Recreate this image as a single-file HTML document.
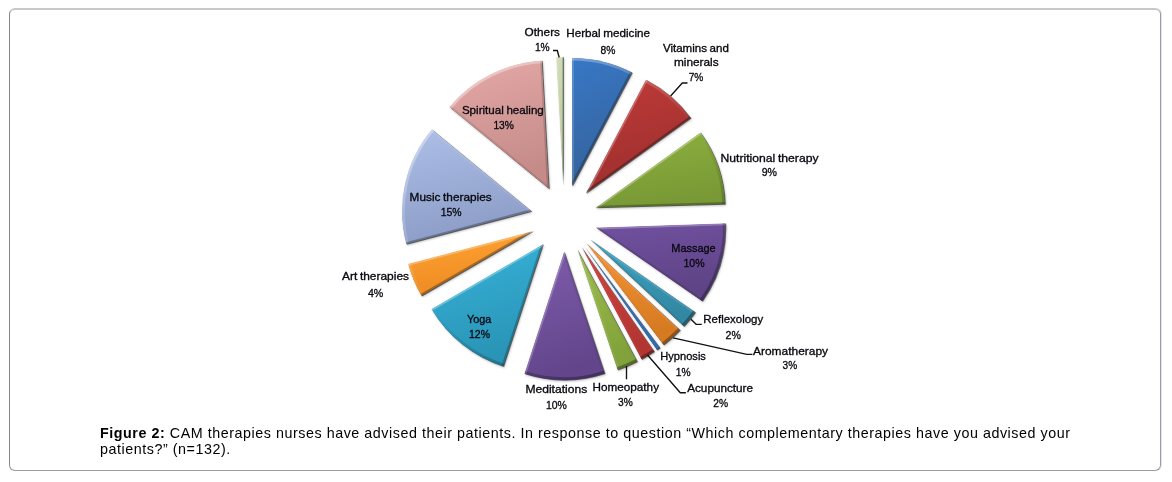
<!DOCTYPE html>
<html><head><meta charset="utf-8"><title>Figure 2</title>
<style>
html,body{margin:0;padding:0;background:#fff;}
body{width:1172px;height:482px;position:relative;overflow:hidden;font-family:"Liberation Sans",sans-serif;}
.frame{position:absolute;left:9px;top:8px;width:1150px;height:460px;border:1px solid #9b9ba3;border-left-color:#8c8888;border-top:2px solid #c8c8c8;border-radius:6px;box-sizing:content-box;box-shadow:1px 0 0 #e4e4ea;}
.cap{position:absolute;left:100px;top:425px;width:1000px;font-size:14.3px;line-height:16px;color:#000;letter-spacing:0.545px;}
.cap b{font-weight:bold;}
</style></head><body>
<div class="frame"></div>
<svg width="1172" height="482" viewBox="0 0 1172 482" style="position:absolute;left:0;top:0">
<defs>
<filter id="sh" x="-20%" y="-20%" width="140%" height="140%"><feGaussianBlur stdDeviation="1.1"/></filter>
<filter id="b2" x="-20%" y="-20%" width="140%" height="140%"><feGaussianBlur stdDeviation="0.45"/></filter>
<path id="p-herbal" d="M571.9,186.3L571.9,57.7A128.6,128.6 0 0 1 631.5,72.3Z"/><clipPath id="c-herbal"><use href="#p-herbal"/></clipPath><linearGradient id="g-herbal" x1="0" y1="0" x2="0.25" y2="1"><stop offset="0" stop-color="#3878c6"/><stop offset="1" stop-color="#35629b"/></linearGradient><linearGradient id="a-herbal" gradientUnits="userSpaceOnUse" x1="501.1" y1="78.9" x2="642.6" y2="293.6"><stop offset="0" stop-color="#fff" stop-opacity="0.38"/><stop offset="0.5" stop-color="#fff" stop-opacity="0"/><stop offset="0.5" stop-color="#000" stop-opacity="0"/><stop offset="1" stop-color="#000" stop-opacity="0.34"/></linearGradient><path id="p-vitamins" d="M585.6,193.3L645.2,79.4A128.6,128.6 0 0 1 689.8,117.9Z"/><clipPath id="c-vitamins"><use href="#p-vitamins"/></clipPath><linearGradient id="g-vitamins" x1="0" y1="0" x2="0.25" y2="1"><stop offset="0" stop-color="#bf3a38"/><stop offset="1" stop-color="#9d302e"/></linearGradient><linearGradient id="a-vitamins" gradientUnits="userSpaceOnUse" x1="514.9" y1="86.0" x2="656.3" y2="300.7"><stop offset="0" stop-color="#fff" stop-opacity="0.38"/><stop offset="0.5" stop-color="#fff" stop-opacity="0"/><stop offset="0.5" stop-color="#000" stop-opacity="0"/><stop offset="1" stop-color="#000" stop-opacity="0.34"/></linearGradient><path id="p-nutri" d="M595.2,207.7L699.4,132.3A128.6,128.6 0 0 1 723.8,204.1Z"/><clipPath id="c-nutri"><use href="#p-nutri"/></clipPath><linearGradient id="g-nutri" x1="0" y1="0" x2="0.25" y2="1"><stop offset="0" stop-color="#8db03f"/><stop offset="1" stop-color="#789935"/></linearGradient><linearGradient id="a-nutri" gradientUnits="userSpaceOnUse" x1="524.5" y1="100.3" x2="666.0" y2="315.1"><stop offset="0" stop-color="#fff" stop-opacity="0.38"/><stop offset="0.5" stop-color="#fff" stop-opacity="0"/><stop offset="0.5" stop-color="#000" stop-opacity="0"/><stop offset="1" stop-color="#000" stop-opacity="0.34"/></linearGradient><path id="p-massage" d="M595.6,227.6L724.2,223.2A128.6,128.6 0 0 1 701.1,301.2Z"/><clipPath id="c-massage"><use href="#p-massage"/></clipPath><linearGradient id="g-massage" x1="0" y1="0" x2="0.25" y2="1"><stop offset="0" stop-color="#7151a0"/><stop offset="1" stop-color="#5e4385"/></linearGradient><linearGradient id="a-massage" gradientUnits="userSpaceOnUse" x1="524.9" y1="120.3" x2="666.4" y2="335.0"><stop offset="0" stop-color="#fff" stop-opacity="0.38"/><stop offset="0.5" stop-color="#fff" stop-opacity="0"/><stop offset="0.5" stop-color="#000" stop-opacity="0"/><stop offset="1" stop-color="#000" stop-opacity="0.34"/></linearGradient><path id="p-reflex" d="M589.6,239.1L694.3,312.1A127.6,127.6 0 0 1 682.8,326.3Z"/><clipPath id="c-reflex"><use href="#p-reflex"/></clipPath><linearGradient id="g-reflex" x1="0" y1="0" x2="0.25" y2="1"><stop offset="0" stop-color="#3fa5c4"/><stop offset="1" stop-color="#3288a3"/></linearGradient><linearGradient id="a-reflex" gradientUnits="userSpaceOnUse" x1="518.9" y1="131.7" x2="660.4" y2="346.4"><stop offset="0" stop-color="#fff" stop-opacity="0.38"/><stop offset="0.5" stop-color="#fff" stop-opacity="0"/><stop offset="0.5" stop-color="#000" stop-opacity="0"/><stop offset="1" stop-color="#000" stop-opacity="0.34"/></linearGradient><path id="p-aroma" d="M586.0,242.9L679.2,330.0A127.6,127.6 0 0 1 662.7,344.9Z"/><clipPath id="c-aroma"><use href="#p-aroma"/></clipPath><linearGradient id="g-aroma" x1="0" y1="0" x2="0.25" y2="1"><stop offset="0" stop-color="#f59433"/><stop offset="1" stop-color="#d67a22"/></linearGradient><linearGradient id="a-aroma" gradientUnits="userSpaceOnUse" x1="515.3" y1="135.5" x2="656.8" y2="350.2"><stop offset="0" stop-color="#fff" stop-opacity="0.38"/><stop offset="0.5" stop-color="#fff" stop-opacity="0"/><stop offset="0.5" stop-color="#000" stop-opacity="0"/><stop offset="1" stop-color="#000" stop-opacity="0.34"/></linearGradient><path id="p-hypno" d="M583.2,245.1L659.2,347.6A127.6,127.6 0 0 1 656.1,349.9Z"/><clipPath id="c-hypno"><use href="#p-hypno"/></clipPath><linearGradient id="g-hypno" x1="0" y1="0" x2="0.25" y2="1"><stop offset="0" stop-color="#3b7cc8"/><stop offset="1" stop-color="#326aab"/></linearGradient><linearGradient id="a-hypno" gradientUnits="userSpaceOnUse" x1="512.5" y1="137.7" x2="654.0" y2="352.5"><stop offset="0" stop-color="#fff" stop-opacity="0.38"/><stop offset="0.5" stop-color="#fff" stop-opacity="0"/><stop offset="0.5" stop-color="#000" stop-opacity="0"/><stop offset="1" stop-color="#000" stop-opacity="0.34"/></linearGradient><path id="p-acu" d="M581.1,246.5L653.6,351.5A127.6,127.6 0 0 1 640.8,359.3Z"/><clipPath id="c-acu"><use href="#p-acu"/></clipPath><linearGradient id="g-acu" x1="0" y1="0" x2="0.25" y2="1"><stop offset="0" stop-color="#d04341"/><stop offset="1" stop-color="#b23532"/></linearGradient><linearGradient id="a-acu" gradientUnits="userSpaceOnUse" x1="510.4" y1="139.1" x2="651.8" y2="353.9"><stop offset="0" stop-color="#fff" stop-opacity="0.38"/><stop offset="0.5" stop-color="#fff" stop-opacity="0"/><stop offset="0.5" stop-color="#000" stop-opacity="0"/><stop offset="1" stop-color="#000" stop-opacity="0.34"/></linearGradient><path id="p-homeo" d="M576.9,248.7L636.7,361.4A127.6,127.6 0 0 1 617.0,369.8Z"/><clipPath id="c-homeo"><use href="#p-homeo"/></clipPath><linearGradient id="g-homeo" x1="0" y1="0" x2="0.25" y2="1"><stop offset="0" stop-color="#9ec050"/><stop offset="1" stop-color="#81a13a"/></linearGradient><linearGradient id="a-homeo" gradientUnits="userSpaceOnUse" x1="506.2" y1="141.3" x2="647.7" y2="356.0"><stop offset="0" stop-color="#fff" stop-opacity="0.38"/><stop offset="0.5" stop-color="#fff" stop-opacity="0"/><stop offset="0.5" stop-color="#000" stop-opacity="0"/><stop offset="1" stop-color="#000" stop-opacity="0.34"/></linearGradient><path id="p-medit" d="M564.1,251.3L604.5,373.4A128.6,128.6 0 0 1 524.6,373.7Z"/><clipPath id="c-medit"><use href="#p-medit"/></clipPath><linearGradient id="g-medit" x1="0" y1="0" x2="0.25" y2="1"><stop offset="0" stop-color="#805dad"/><stop offset="1" stop-color="#62458b"/></linearGradient><linearGradient id="a-medit" gradientUnits="userSpaceOnUse" x1="493.4" y1="143.9" x2="634.8" y2="358.7"><stop offset="0" stop-color="#fff" stop-opacity="0.38"/><stop offset="0.5" stop-color="#fff" stop-opacity="0"/><stop offset="0.5" stop-color="#000" stop-opacity="0"/><stop offset="1" stop-color="#000" stop-opacity="0.34"/></linearGradient><path id="p-yoga" d="M543.3,244.0L503.8,366.4A128.6,128.6 0 0 1 432.3,308.9Z"/><clipPath id="c-yoga"><use href="#p-yoga"/></clipPath><linearGradient id="g-yoga" x1="0" y1="0" x2="0.25" y2="1"><stop offset="0" stop-color="#37b3d9"/><stop offset="1" stop-color="#2994b6"/></linearGradient><linearGradient id="a-yoga" gradientUnits="userSpaceOnUse" x1="472.6" y1="136.6" x2="614.1" y2="351.4"><stop offset="0" stop-color="#fff" stop-opacity="0.38"/><stop offset="0.5" stop-color="#fff" stop-opacity="0"/><stop offset="0.5" stop-color="#000" stop-opacity="0"/><stop offset="1" stop-color="#000" stop-opacity="0.34"/></linearGradient><path id="p-art" d="M533.5,231.0L422.5,295.8A128.6,128.6 0 0 1 409.2,263.8Z"/><clipPath id="c-art"><use href="#p-art"/></clipPath><linearGradient id="g-art" x1="0" y1="0" x2="0.25" y2="1"><stop offset="0" stop-color="#ffa534"/><stop offset="1" stop-color="#ee8a22"/></linearGradient><linearGradient id="a-art" gradientUnits="userSpaceOnUse" x1="462.8" y1="123.6" x2="604.3" y2="338.3"><stop offset="0" stop-color="#fff" stop-opacity="0.38"/><stop offset="0.5" stop-color="#fff" stop-opacity="0"/><stop offset="0.5" stop-color="#000" stop-opacity="0"/><stop offset="1" stop-color="#000" stop-opacity="0.34"/></linearGradient><path id="p-music" d="M531.8,211.2L407.4,244.1A128.6,128.6 0 0 1 432.7,129.2Z"/><clipPath id="c-music"><use href="#p-music"/></clipPath><linearGradient id="g-music" x1="0" y1="0" x2="0.25" y2="1"><stop offset="0" stop-color="#adc0e8"/><stop offset="1" stop-color="#8c9cc6"/></linearGradient><linearGradient id="a-music" gradientUnits="userSpaceOnUse" x1="461.0" y1="103.8" x2="602.5" y2="318.6"><stop offset="0" stop-color="#fff" stop-opacity="0.38"/><stop offset="0.5" stop-color="#fff" stop-opacity="0"/><stop offset="0.5" stop-color="#000" stop-opacity="0"/><stop offset="1" stop-color="#000" stop-opacity="0.34"/></linearGradient><path id="p-spirit" d="M549.1,188.8L450.1,106.9A128.6,128.6 0 0 1 542.2,60.4Z"/><clipPath id="c-spirit"><use href="#p-spirit"/></clipPath><linearGradient id="g-spirit" x1="0" y1="0" x2="0.25" y2="1"><stop offset="0" stop-color="#e6aaa8"/><stop offset="1" stop-color="#c48b89"/></linearGradient><linearGradient id="a-spirit" gradientUnits="userSpaceOnUse" x1="478.4" y1="81.5" x2="619.9" y2="296.2"><stop offset="0" stop-color="#fff" stop-opacity="0.38"/><stop offset="0.5" stop-color="#fff" stop-opacity="0"/><stop offset="0.5" stop-color="#000" stop-opacity="0"/><stop offset="1" stop-color="#000" stop-opacity="0.34"/></linearGradient><path id="p-others" d="M563.1,185.3L556.2,56.9A128.6,128.6 0 0 1 563.1,56.7Z"/><clipPath id="c-others"><use href="#p-others"/></clipPath><linearGradient id="g-others" x1="0" y1="0" x2="0.25" y2="1"><stop offset="0" stop-color="#d2dfb8"/><stop offset="1" stop-color="#b6c599"/></linearGradient><linearGradient id="a-others" gradientUnits="userSpaceOnUse" x1="492.4" y1="77.9" x2="633.8" y2="292.7"><stop offset="0" stop-color="#fff" stop-opacity="0.38"/><stop offset="0.5" stop-color="#fff" stop-opacity="0"/><stop offset="0.5" stop-color="#000" stop-opacity="0"/><stop offset="1" stop-color="#000" stop-opacity="0.34"/></linearGradient>
</defs>
<g id="pie" transform="translate(564.0,0) scale(1.008,1) translate(-564.0,0)"><use href="#p-herbal" fill="#000" opacity="0.24" filter="url(#sh)" transform="translate(1.2,1.5)"/><use href="#p-vitamins" fill="#000" opacity="0.24" filter="url(#sh)" transform="translate(1.2,1.5)"/><use href="#p-nutri" fill="#000" opacity="0.24" filter="url(#sh)" transform="translate(1.2,1.5)"/><use href="#p-massage" fill="#000" opacity="0.24" filter="url(#sh)" transform="translate(1.2,1.5)"/><use href="#p-reflex" fill="#000" opacity="0.24" filter="url(#sh)" transform="translate(1.2,1.5)"/><use href="#p-aroma" fill="#000" opacity="0.24" filter="url(#sh)" transform="translate(1.2,1.5)"/><use href="#p-hypno" fill="#000" opacity="0.24" filter="url(#sh)" transform="translate(1.2,1.5)"/><use href="#p-acu" fill="#000" opacity="0.24" filter="url(#sh)" transform="translate(1.2,1.5)"/><use href="#p-homeo" fill="#000" opacity="0.24" filter="url(#sh)" transform="translate(1.2,1.5)"/><use href="#p-medit" fill="#000" opacity="0.24" filter="url(#sh)" transform="translate(1.2,1.5)"/><use href="#p-yoga" fill="#000" opacity="0.24" filter="url(#sh)" transform="translate(1.2,1.5)"/><use href="#p-art" fill="#000" opacity="0.24" filter="url(#sh)" transform="translate(1.2,1.5)"/><use href="#p-music" fill="#000" opacity="0.24" filter="url(#sh)" transform="translate(1.2,1.5)"/><use href="#p-spirit" fill="#000" opacity="0.24" filter="url(#sh)" transform="translate(1.2,1.5)"/><use href="#p-others" fill="#000" opacity="0.24" filter="url(#sh)" transform="translate(1.2,1.5)"/><use href="#p-herbal" fill="#1a1a1a" fill-opacity="0.62" transform="translate(0.75,0.6)"/><g clip-path="url(#c-herbal)"><use href="#p-herbal" fill="url(#g-herbal)"/><g filter="url(#b2)" fill="none" stroke-width="5.6"><path d="M571.9,186.3L571.9,57.7" stroke="#fff" stroke-opacity="0.17" stroke-width="4.0"/><path d="M631.5,72.3L571.9,186.3" stroke="#000" stroke-opacity="0.26" stroke-width="4.0"/><path d="M571.9,57.7A128.6,128.6 0 0 1 631.5,72.3" stroke="url(#a-herbal)"/></g></g><use href="#p-vitamins" fill="#1a1a1a" fill-opacity="0.62" transform="translate(0.75,0.6)"/><g clip-path="url(#c-vitamins)"><use href="#p-vitamins" fill="url(#g-vitamins)"/><g filter="url(#b2)" fill="none" stroke-width="5.6"><path d="M585.6,193.3L645.2,79.4" stroke="#fff" stroke-opacity="0.26" stroke-width="4.0"/><path d="M689.8,117.9L585.6,193.3" stroke="#000" stroke-opacity="0.30" stroke-width="4.0"/><path d="M645.2,79.4A128.6,128.6 0 0 1 689.8,117.9" stroke="url(#a-vitamins)"/></g></g><use href="#p-nutri" fill="#1a1a1a" fill-opacity="0.62" transform="translate(0.75,0.6)"/><g clip-path="url(#c-nutri)"><use href="#p-nutri" fill="url(#g-nutri)"/><g filter="url(#b2)" fill="none" stroke-width="5.6"><path d="M595.2,207.7L699.4,132.3" stroke="#fff" stroke-opacity="0.30" stroke-width="4.0"/><path d="M723.8,204.1L595.2,207.7" stroke="#000" stroke-opacity="0.26" stroke-width="4.0"/><path d="M699.4,132.3A128.6,128.6 0 0 1 723.8,204.1" stroke="url(#a-nutri)"/></g></g><use href="#p-massage" fill="#1a1a1a" fill-opacity="0.62" transform="translate(0.75,0.6)"/><g clip-path="url(#c-massage)"><use href="#p-massage" fill="url(#g-massage)"/><g filter="url(#b2)" fill="none" stroke-width="5.6"><path d="M595.6,227.6L724.2,223.2" stroke="#fff" stroke-opacity="0.26" stroke-width="4.0"/><path d="M701.1,301.2L595.6,227.6" stroke="#000" stroke-opacity="0.11" stroke-width="4.0"/><path d="M724.2,223.2A128.6,128.6 0 0 1 701.1,301.2" stroke="url(#a-massage)"/></g></g><use href="#p-reflex" fill="#1a1a1a" fill-opacity="0.62" transform="translate(0.75,0.6)"/><g clip-path="url(#c-reflex)"><use href="#p-reflex" fill="url(#g-reflex)"/><g filter="url(#b2)" fill="none" stroke-width="5.6"><path d="M589.6,239.1L694.3,312.1" stroke="#fff" stroke-opacity="0.11" stroke-width="4.0"/><path d="M682.8,326.3L589.6,239.1" stroke="#000" stroke-opacity="0.07" stroke-width="4.0"/><path d="M694.3,312.1A127.6,127.6 0 0 1 682.8,326.3" stroke="url(#a-reflex)"/></g></g><use href="#p-aroma" fill="#1a1a1a" fill-opacity="0.62" transform="translate(0.75,0.6)"/><g clip-path="url(#c-aroma)"><use href="#p-aroma" fill="url(#g-aroma)"/><g filter="url(#b2)" fill="none" stroke-width="5.6"><path d="M586.0,242.9L679.2,330.0" stroke="#fff" stroke-opacity="0.07" stroke-width="4.0"/><path d="M662.7,344.9L586.0,242.9" stroke="#000" stroke-opacity="0.02" stroke-width="4.0"/><path d="M679.2,330.0A127.6,127.6 0 0 1 662.7,344.9" stroke="url(#a-aroma)"/></g></g><use href="#p-hypno" fill="#1a1a1a" fill-opacity="0.62" transform="translate(0.75,0.6)"/><g clip-path="url(#c-hypno)"><use href="#p-hypno" fill="url(#g-hypno)"/><g filter="url(#b2)" fill="none" stroke-width="1.6"><path d="M583.2,245.1L659.2,347.6" stroke="#fff" stroke-opacity="0.02" stroke-width="1.2"/><path d="M656.1,349.9L583.2,245.1" stroke="#000" stroke-opacity="0.01" stroke-width="1.2"/><path d="M659.2,347.6A127.6,127.6 0 0 1 656.1,349.9" stroke="url(#a-hypno)"/></g></g><use href="#p-acu" fill="#1a1a1a" fill-opacity="0.62" transform="translate(0.75,0.6)"/><g clip-path="url(#c-acu)"><use href="#p-acu" fill="url(#g-acu)"/><g filter="url(#b2)" fill="none" stroke-width="5.6"><path d="M581.1,246.5L653.6,351.5" stroke="#fff" stroke-opacity="0.01" stroke-width="4.0"/><path d="M640.8,359.3L581.1,246.5" stroke="#fff" stroke-opacity="0.03" stroke-width="4.0"/><path d="M653.6,351.5A127.6,127.6 0 0 1 640.8,359.3" stroke="url(#a-acu)"/></g></g><use href="#p-homeo" fill="#1a1a1a" fill-opacity="0.62" transform="translate(0.75,0.6)"/><g clip-path="url(#c-homeo)"><use href="#p-homeo" fill="url(#g-homeo)"/><g filter="url(#b2)" fill="none" stroke-width="5.6"><path d="M576.9,248.7L636.7,361.4" stroke="#000" stroke-opacity="0.03" stroke-width="4.0"/><path d="M617.0,369.8L576.9,248.7" stroke="#fff" stroke-opacity="0.08" stroke-width="4.0"/><path d="M636.7,361.4A127.6,127.6 0 0 1 617.0,369.8" stroke="url(#a-homeo)"/></g></g><use href="#p-medit" fill="#1a1a1a" fill-opacity="0.62" transform="translate(0.75,0.6)"/><g clip-path="url(#c-medit)"><use href="#p-medit" fill="url(#g-medit)"/><g filter="url(#b2)" fill="none" stroke-width="5.6"><path d="M564.1,251.3L604.5,373.4" stroke="#000" stroke-opacity="0.08" stroke-width="4.0"/><path d="M524.6,373.7L564.1,251.3" stroke="#fff" stroke-opacity="0.23" stroke-width="4.0"/><path d="M604.5,373.4A128.6,128.6 0 0 1 524.6,373.7" stroke="url(#a-medit)"/></g></g><use href="#p-yoga" fill="#1a1a1a" fill-opacity="0.62" transform="translate(0.75,0.6)"/><g clip-path="url(#c-yoga)"><use href="#p-yoga" fill="url(#g-yoga)"/><g filter="url(#b2)" fill="none" stroke-width="5.6"><path d="M543.3,244.0L503.8,366.4" stroke="#000" stroke-opacity="0.23" stroke-width="4.0"/><path d="M432.3,308.9L543.3,244.0" stroke="#fff" stroke-opacity="0.30" stroke-width="4.0"/><path d="M503.8,366.4A128.6,128.6 0 0 1 432.3,308.9" stroke="url(#a-yoga)"/></g></g><use href="#p-art" fill="#1a1a1a" fill-opacity="0.62" transform="translate(0.75,0.6)"/><g clip-path="url(#c-art)"><use href="#p-art" fill="url(#g-art)"/><g filter="url(#b2)" fill="none" stroke-width="5.6"><path d="M533.5,231.0L422.5,295.8" stroke="#000" stroke-opacity="0.30" stroke-width="4.0"/><path d="M409.2,263.8L533.5,231.0" stroke="#fff" stroke-opacity="0.28" stroke-width="4.0"/><path d="M422.5,295.8A128.6,128.6 0 0 1 409.2,263.8" stroke="url(#a-art)"/></g></g><use href="#p-music" fill="#1a1a1a" fill-opacity="0.62" transform="translate(0.75,0.6)"/><g clip-path="url(#c-music)"><use href="#p-music" fill="url(#g-music)"/><g filter="url(#b2)" fill="none" stroke-width="5.6"><path d="M531.8,211.2L407.4,244.1" stroke="#000" stroke-opacity="0.28" stroke-width="4.0"/><path d="M432.7,129.2L531.8,211.2" stroke="#fff" stroke-opacity="0.09" stroke-width="4.0"/><path d="M407.4,244.1A128.6,128.6 0 0 1 432.7,129.2" stroke="url(#a-music)"/></g></g><use href="#p-spirit" fill="#1a1a1a" fill-opacity="0.62" transform="translate(0.75,0.6)"/><g clip-path="url(#c-spirit)"><use href="#p-spirit" fill="url(#g-spirit)"/><g filter="url(#b2)" fill="none" stroke-width="5.6"><path d="M549.1,188.8L450.1,106.9" stroke="#000" stroke-opacity="0.09" stroke-width="4.0"/><path d="M542.2,60.4L549.1,188.8" stroke="#000" stroke-opacity="0.15" stroke-width="4.0"/><path d="M450.1,106.9A128.6,128.6 0 0 1 542.2,60.4" stroke="url(#a-spirit)"/></g></g><use href="#p-others" fill="#1a1a1a" fill-opacity="0.62" transform="translate(0.75,0.6)"/><g clip-path="url(#c-others)"><use href="#p-others" fill="url(#g-others)"/><g filter="url(#b2)" fill="none" stroke-width="3.0"><path d="M563.1,185.3L556.2,56.9" stroke="#fff" stroke-opacity="0.15" stroke-width="2.2"/><path d="M563.1,56.7L563.1,185.3" stroke="#000" stroke-opacity="0.16" stroke-width="2.2"/><path d="M556.2,56.9A128.6,128.6 0 0 1 563.1,56.7" stroke="url(#a-others)"/></g></g></g>
<g fill="none" stroke="#111" stroke-width="1.35"><path d="M670.6,96L682.3,83L687.5,83"/><path d="M691,319.2L696.1,324.3L701.8,324.3"/><path d="M673.1,337.9L746.8,354.3L752.4,354.3"/><path d="M647.5,355L680.3,392.7L685.9,392.7"/><path d="M626.5,366L626.5,379.3"/><path d="M553,50.5L557.3,50.5L559.2,57.5"/></g>
<g font-family="'Liberation Sans', sans-serif" font-size="11.3" word-spacing="-0.6" fill="#08080f" stroke="#08080f" stroke-width="0.32"><text x="524.6" y="35.6" textLength="35.4" lengthAdjust="spacingAndGlyphs">Others</text><text x="534.9" y="50.5" textLength="14.8" lengthAdjust="spacingAndGlyphs">1%</text><text x="566.3" y="37.1" textLength="83.7" lengthAdjust="spacingAndGlyphs">Herbal medicine</text><text x="600.6" y="53.5" textLength="14.9" lengthAdjust="spacingAndGlyphs">8%</text><text x="461.9" y="113.9" textLength="81.9" lengthAdjust="spacingAndGlyphs">Spiritual healing</text><text x="493.4" y="128.5" textLength="20.5" lengthAdjust="spacingAndGlyphs">13%</text><text x="662.9" y="51.5" textLength="66.0" lengthAdjust="spacingAndGlyphs">Vitamins and</text><text x="673.9" y="66.1" textLength="44.8" lengthAdjust="spacingAndGlyphs">minerals</text><text x="688.7" y="81.0" textLength="14.6" lengthAdjust="spacingAndGlyphs">7%</text><text x="720.5" y="161.7" textLength="98.0" lengthAdjust="spacingAndGlyphs">Nutritional therapy</text><text x="761.7" y="176.3" textLength="15.3" lengthAdjust="spacingAndGlyphs">9%</text><text x="671.3" y="252.0" textLength="44.3" lengthAdjust="spacingAndGlyphs">Massage</text><text x="683.4" y="267.3" textLength="21.2" lengthAdjust="spacingAndGlyphs">10%</text><text x="703.3" y="323.3" textLength="59.9" lengthAdjust="spacingAndGlyphs">Reflexology</text><text x="725.6" y="339.2" textLength="15.3" lengthAdjust="spacingAndGlyphs">2%</text><text x="753.0" y="354.5" textLength="75.0" lengthAdjust="spacingAndGlyphs">Aromatherapy</text><text x="782.6" y="369.1" textLength="14.6" lengthAdjust="spacingAndGlyphs">3%</text><text x="660.3" y="360.4" textLength="45.6" lengthAdjust="spacingAndGlyphs">Hypnosis</text><text x="675.7" y="376.3" textLength="14.8" lengthAdjust="spacingAndGlyphs">1%</text><text x="687.2" y="392.2" textLength="65.8" lengthAdjust="spacingAndGlyphs">Acupuncture</text><text x="713.3" y="407.0" textLength="14.8" lengthAdjust="spacingAndGlyphs">2%</text><text x="592.5" y="391.1" textLength="66.5" lengthAdjust="spacingAndGlyphs">Homeopathy</text><text x="618.0" y="405.7" textLength="14.7" lengthAdjust="spacingAndGlyphs">3%</text><text x="525.4" y="393.2" textLength="61.9" lengthAdjust="spacingAndGlyphs">Meditations</text><text x="545.9" y="409.0" textLength="20.9" lengthAdjust="spacingAndGlyphs">10%</text><text x="467.0" y="322.8" textLength="24.3" lengthAdjust="spacingAndGlyphs">Yoga</text><text x="469.0" y="338.1" textLength="21.0" lengthAdjust="spacingAndGlyphs">12%</text><text x="342.0" y="280.4" textLength="67.0" lengthAdjust="spacingAndGlyphs">Art therapies</text><text x="367.9" y="296.8" textLength="15.4" lengthAdjust="spacingAndGlyphs">4%</text><text x="409.6" y="200.9" textLength="82.0" lengthAdjust="spacingAndGlyphs">Music therapies</text><text x="440.7" y="216.3" textLength="20.9" lengthAdjust="spacingAndGlyphs">15%</text></g>
</svg>
<div class="cap"><b>Figure 2:</b> CAM therapies nurses have advised their patients. In response to question “Which complementary therapies have you advised your patients?” (n=132).</div>
</body></html>
